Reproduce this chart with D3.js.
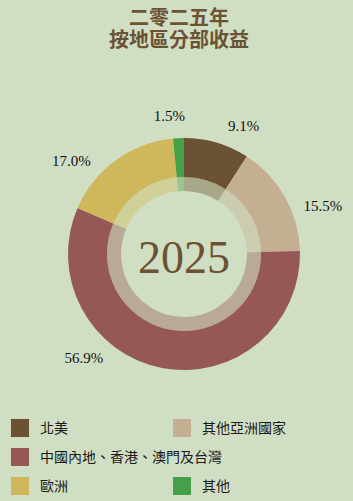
<!DOCTYPE html>
<html>
<head>
<meta charset="utf-8">
<script src="https://cdn.jsdelivr.net/npm/d3@7"></script>
<style>
  html, body { margin: 0; padding: 0; background: #d0dfc4; }
</style>
</head>
<body>
<div id="chart"></div>
<script>
// Data

var regions = ["北美", "其他亞洲國家", "中國內地、香港、澳門及台灣", "歐洲", "其他"];
var shares = [9.1, 15.5, 56.9, 17.0, 1.5];
var titleLines = ["二零二五年", "按地區分部收益"];
var centerLabel = "2025";

// label placement (angle in degrees clockwise from top, radius)
var labelAngle = [25, 71, 224, 309.5, 354];
var labelRadius = [141, 147, 144, 146, 139];

var colors = d3.scaleOrdinal()
  .domain(regions)
  .range(["#6b5232", "#c4af93", "#965757", "#cfb85b", "#46a047"]);

//Width and height of svg
var w = 353;
var h = 501;
var cx = 184, cy = 254;

var svg = d3.select("#chart")
  .append("svg")
    .attr("width", w)
    .attr("height", h);

svg.append("rect")
  .attr("width", w)
  .attr("height", h)
  .attr("fill", "#d0dfc4");

// Title (one text block, two lines)
var title = svg.append("text")
  .attr("class", "title")
  .attr("text-anchor", "middle")
  .attr("font-family", "'Noto Sans CJK TC', sans-serif")
  .attr("font-weight", "bold")
  .attr("font-size", 20)
  .attr("fill", "#6b5232");

title.selectAll("tspan")
  .data(titleLines)
  .enter()
  .append("tspan")
    .attr("x", 179)
    .attr("y", (d, i) => 25 + i * 22)
    .text(d => d);

// Donut
var pie = d3.pie().sort(null).value(d => d);
var arcs = pie(shares);

var outer = d3.arc().innerRadius(77).outerRadius(116);
var inner = d3.arc().innerRadius(63).outerRadius(77);

var g = svg.append("g")
  .attr("transform", `translate(${cx},${cy})`);

g.selectAll("path.outer")
  .data(arcs)
  .enter()
  .append("path")
    .attr("class", "outer")
    .attr("d", outer)
    .attr("fill", (d, i) => colors(regions[i]));

g.selectAll("path.inner")
  .data(arcs)
  .enter()
  .append("path")
    .attr("class", "inner")
    .attr("d", inner)
    .attr("fill", (d, i) => colors(regions[i]))
    .attr("fill-opacity", 0.4);

// Percentage labels
var f = d3.format(".1f");
g.selectAll("text.pct")
  .data(arcs)
  .enter()
  .append("text")
    .attr("class", "pct")
    .attr("x", (d, i) => labelRadius[i] * Math.sin(labelAngle[i] * Math.PI / 180))
    .attr("y", (d, i) => -labelRadius[i] * Math.cos(labelAngle[i] * Math.PI / 180))
    .attr("dy", "0.35em")
    .attr("text-anchor", "middle")
    .attr("font-family", "'Liberation Serif', serif")
    .attr("font-size", 15)
    .attr("fill", "#111")
    .text(d => f(d.data) + "%");

g.append("text")
  .attr("x", 0)
  .attr("y", 3)
  .attr("dy", "0.35em")
  .attr("text-anchor", "middle")
  .attr("font-family", "'Liberation Serif', serif")
  .attr("font-size", 46)
  .attr("fill", "#6b5232")
  .text(centerLabel);

// Legend
var legendPos = [[11, 419], [173, 419], [11, 448], [11, 477], [173, 477]];
var legend = svg.selectAll("g.legend")
  .data(regions)
  .enter()
  .append("g")
    .attr("class", "legend")
    .attr("transform", (d, i) => `translate(${legendPos[i][0]},${legendPos[i][1]})`);

legend.append("rect")
  .attr("width", 18)
  .attr("height", 18)
  .attr("fill", d => colors(d));

legend.append("text")
  .attr("x", 29)
  .attr("y", 9)
  .attr("dy", "0.35em")
  .attr("font-family", "'Noto Sans CJK TC', sans-serif")
  .attr("font-size", 14)
  .attr("fill", "#1a1a1a")
  .text(d => d);
</script>
</body>
</html>
